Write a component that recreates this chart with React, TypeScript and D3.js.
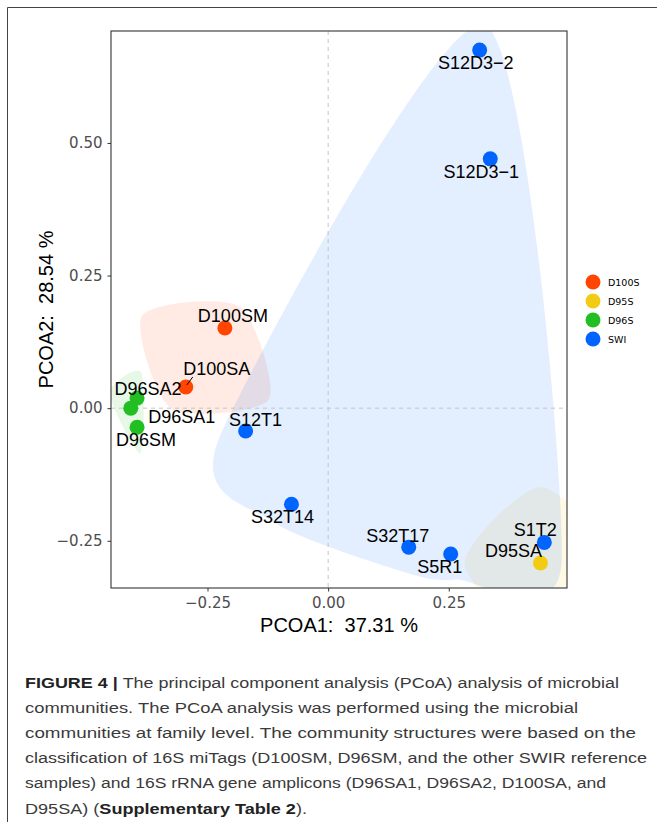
import { useRef, useEffect } from 'react';
import * as d3 from 'd3';

// PCoA scores
const samples = ['S12D3-2', 'S12D3-1', 'D100SM', 'D100SA', 'D96SA2', 'D96SA1', 'D96SM', 'S12T1', 'S32T14', 'S32T17', 'S5R1', 'S1T2', 'D95SA'];
const sampleGroups = ['SWI', 'SWI', 'D100S', 'D100S', 'D96S', 'D96S', 'D96S', 'SWI', 'SWI', 'SWI', 'SWI', 'SWI', 'D95S'];
const pcoa1 = [0.314, 0.336, -0.214, -0.295, -0.396, -0.409, -0.396, -0.171, -0.076, 0.167, 0.254, 0.448, 0.44];
const pcoa2 = [0.675, 0.47, 0.151, 0.04, 0.019, 0.0, -0.036, -0.043, -0.181, -0.262, -0.275, -0.253, -0.292];

const legendGroups = ['D100S', 'D95S', 'D96S', 'SWI'];
const groupColors = ['#FF4500', '#F2CC14', '#22BF22', '#0064FF'];

const xTicks = [-0.25, 0, 0.25];
const yTicks = [-0.25, 0, 0.25, 0.5];

const captionLines = [
  [['FIGURE 4 | ', true], ['The principal component analysis (PCoA) analysis of microbial', false]],
  [['communities. The PCoA analysis was performed using the microbial', false]],
  [['communities at family level. The community structures were based on the', false]],
  [['classification of 16S miTags (D100SM, D96SM, and the other SWIR reference', false]],
  [['samples) and 16S rRNA gene amplicons (D96SA1, D96SA2, D100SA, and', false]],
  [['D95SA) (', false], ['Supplementary Table 2', true], [').', false]],
] as [string, boolean][][];
const captionWidths = [594, 553, 611, 622, 581, 282];

// label placement (repelled text), offsets in px from the point
const labelNudge: Record<string, [number, number]> = {
  'S12D3-2': [-4, 13],
  'S12D3-1': [-9, 13],
  D100SM: [8, -12],
  D100SA: [31, -18],
  D96SA2: [11, -9],
  D96SA1: [51, 9],
  D96SM: [9, 13],
  S12T1: [10, -11],
  S32T14: [-9, 13],
  S32T17: [-11, -11],
  S5R1: [-11, 13],
  S1T2: [-9, -12],
  D95SA: [-27, -12],
};
// only this label got a leader segment
const segmentLabels = ['D100SA'];

const W = 657;
const H = 831;
const panel = { left: 111, top: 31, right: 567, bottom: 588 };
const SPREAD = 50;
const EXPAND = 26;
const plotFont = '"DejaVu Sans", sans-serif';
const labelFont = '"Liberation Sans", Arial, sans-serif';

type Pt = [number, number];

// encircle-like smooth hull around a group's points
function encircle(pts: Pt[]): string {
  const cx = d3.mean(pts, (p) => p[0]) as number;
  const cy = d3.mean(pts, (p) => p[1]) as number;
  let ctrl: Pt[];
  if (pts.length === 1) {
    const [x, y] = pts[0];
    ctrl = [[x + SPREAD, y], [x, y + SPREAD], [x - SPREAD, y], [x, y - SPREAD]];
  } else if (pts.length === 2) {
    const [a, b] = pts;
    const len = Math.hypot(b[0] - a[0], b[1] - a[1]);
    const nx = -(b[1] - a[1]) / len;
    const ny = (b[0] - a[0]) / len;
    ctrl = [a, [cx + nx * SPREAD, cy + ny * SPREAD], b, [cx - nx * SPREAD, cy - ny * SPREAD]];
  } else {
    ctrl = d3.polygonHull(pts) as Pt[];
  }
  const out = ctrl.map(([x, y]) => {
    const dx = x - cx;
    const dy = y - cy;
    const l = Math.hypot(dx, dy) || 1;
    return [x + (dx / l) * EXPAND, y + (dy / l) * EXPAND] as Pt;
  });
  return d3.line().curve(d3.curveCardinalClosed.tension(0.25))(out) as string;
}

const Chart = () => {
  const svgRef = useRef<SVGSVGElement>(null);

  useEffect(() => {
    const svg = d3.select(svgRef.current);
    svg.selectAll('*').remove();

    const x = d3.scaleLinear().domain([-0.45, 0.495]).range([panel.left, panel.right]);
    const y = d3.scaleLinear().domain([-0.339, 0.711]).range([panel.bottom, panel.top]);
    const color = d3.scaleOrdinal<string, string>().domain(legendGroups).range(groupColors);

    // outer figure frame
    svg.append('path')
      .attr('d', `M7.5,822V7.5H${W}`)
      .attr('fill', 'none')
      .attr('stroke', '#444')
      .attr('stroke-width', 1);

    svg.append('clipPath').attr('id', 'panel-clip')
      .append('rect')
      .attr('x', panel.left)
      .attr('y', panel.top)
      .attr('width', panel.right - panel.left)
      .attr('height', panel.bottom - panel.top);

    const data = samples.map((s, i) => ({
      name: s,
      group: sampleGroups[i],
      px: x(pcoa1[i]),
      py: y(pcoa2[i]),
    }));

    // hulls
    const hulls = svg.append('g').attr('clip-path', 'url(#panel-clip)');
    legendGroups.forEach((g) => {
      const pts = data.filter((d) => d.group === g).map((d) => [d.px, d.py] as Pt);
      hulls.append('path')
        .attr('d', encircle(pts))
        .attr('fill', color(g))
        .attr('fill-opacity', 0.11)
        .attr('stroke', 'none');
    });

    // zero reference lines
    svg.append('line')
      .attr('x1', x(0)).attr('x2', x(0))
      .attr('y1', panel.top).attr('y2', panel.bottom)
      .attr('stroke', '#c4c4c4').attr('stroke-width', 1)
      .attr('stroke-dasharray', '4,4');
    svg.append('line')
      .attr('x1', panel.left).attr('x2', panel.right)
      .attr('y1', y(0)).attr('y2', y(0))
      .attr('stroke', '#c4c4c4').attr('stroke-width', 1)
      .attr('stroke-dasharray', '4,4');

    // points
    svg.append('g')
      .selectAll('circle')
      .data(data)
      .join('circle')
      .attr('cx', (d) => d.px)
      .attr('cy', (d) => d.py)
      .attr('r', 7.5)
      .attr('fill', (d) => color(d.group));

    // labels
    const labels = svg.append('g')
      .attr('font-family', labelFont)
      .attr('font-size', 18)
      .attr('fill', '#000');
    data.forEach((d) => {
      const [dx, dy] = labelNudge[d.name];
      if (segmentLabels.includes(d.name)) {
        labels.append('line')
          .attr('x1', d.px + 1).attr('y1', d.py - 2)
          .attr('x2', d.px + 7).attr('y2', d.py - 10)
          .attr('stroke', '#000').attr('stroke-width', 1);
      }
      labels.append('text')
        .attr('x', d.px + dx)
        .attr('y', d.py + dy)
        .attr('text-anchor', 'middle')
        .attr('dominant-baseline', 'central')
        .text(d.name.replace('-', '\u2212'));
    });

    // panel border
    svg.append('rect')
      .attr('x', panel.left)
      .attr('y', panel.top)
      .attr('width', panel.right - panel.left)
      .attr('height', panel.bottom - panel.top)
      .attr('fill', 'none')
      .attr('stroke', '#333')
      .attr('stroke-width', 1.1);

    // axes
    const fmt = d3.format('.2f');
    const xAxis = svg.append('g')
      .attr('transform', `translate(0,${panel.bottom})`)
      .call(d3.axisBottom(x).tickValues(xTicks).tickFormat((d) => fmt(d as number)).tickSize(3.5).tickPadding(5.5));
    const yAxis = svg.append('g')
      .attr('transform', `translate(${panel.left},0)`)
      .call(d3.axisLeft(y).tickValues(yTicks).tickFormat((d) => fmt(d as number)).tickSize(3.5).tickPadding(5));
    [xAxis, yAxis].forEach((a) => {
      a.select('.domain').remove();
      a.selectAll('line').attr('stroke', '#333');
      a.selectAll('text')
        .attr('fill', '#4d4d4d')
        .attr('font-family', plotFont)
        .attr('font-size', 15);
    });

    // axis titles
    svg.append('text')
      .attr('x', (panel.left + panel.right) / 2)
      .attr('y', 632)
      .attr('text-anchor', 'middle')
      .attr('font-family', labelFont)
      .attr('font-size', 20)
      .attr('fill', '#000')
      .style('white-space', 'pre')
      .text('PCOA1:  37.31 %');
    svg.append('text')
      .attr('transform', `translate(53,${(panel.top + panel.bottom) / 2}) rotate(-90)`)
      .attr('text-anchor', 'middle')
      .attr('font-family', labelFont)
      .attr('font-size', 20)
      .attr('fill', '#000')
      .style('white-space', 'pre')
      .text('PCOA2:  28.54 %');

    // legend
    const legend = svg.append('g').attr('transform', 'translate(593,282)');
    legendGroups.forEach((g, i) => {
      legend.append('circle')
        .attr('cx', 0)
        .attr('cy', i * 19)
        .attr('r', 7.5)
        .attr('fill', color(g));
      legend.append('text')
        .attr('x', 15)
        .attr('y', i * 19)
        .attr('dominant-baseline', 'central')
        .attr('font-family', plotFont)
        .attr('font-size', 9.5)
        .attr('fill', '#000')
        .text(g);
    });

    // caption
    const cap = svg.append('g')
      .attr('font-family', '"Liberation Sans", Arial, sans-serif')
      .attr('font-size', 15.5)
      .attr('fill', '#3a3a3a');
    captionLines.forEach((parts, i) => {
      const t = cap.append('text')
        .attr('x', 25)
        .attr('y', 688 + i * 25.1)
        .attr('textLength', captionWidths[i])
        .attr('lengthAdjust', 'spacingAndGlyphs')
        .style('white-space', 'pre');
      parts.forEach(([s, bold]) => {
        t.append('tspan')
          .attr('font-weight', bold ? 'bold' : 'normal')
          .attr('fill', bold ? '#222' : '#3a3a3a')
          .text(s);
      });
    });
  }, []);

  return (
    <svg
      ref={svgRef}
      width={W}
      height={H}
      style={{ position: 'absolute', left: 0, top: 0, display: 'block', background: '#fff' }}
    />
  );
};

export default function App() {
  return <Chart />;
}
